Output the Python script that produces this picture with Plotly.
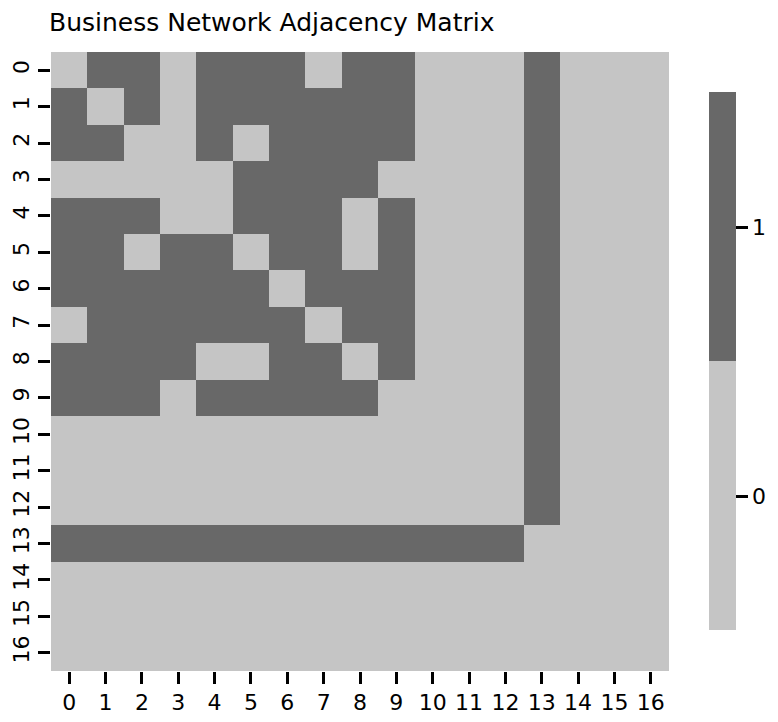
import plotly.graph_objects as go

title = "Business Network Adjacency Matrix"
labels = [str(i) for i in range(17)]

# adjacency rows
row0 = [0,1,1,0,1,1,1,0,1,1,0,0,0,1,0,0,0]
row1 = [1,0,1,0,1,1,1,1,1,1,0,0,0,1,0,0,0]
row2 = [1,1,0,0,1,0,1,1,1,1,0,0,0,1,0,0,0]
row3 = [0,0,0,0,0,1,1,1,1,0,0,0,0,1,0,0,0]
row4 = [1,1,1,0,0,1,1,1,0,1,0,0,0,1,0,0,0]
row5 = [1,1,0,1,1,0,1,1,0,1,0,0,0,1,0,0,0]
row6 = [1,1,1,1,1,1,0,1,1,1,0,0,0,1,0,0,0]
row7 = [0,1,1,1,1,1,1,0,1,1,0,0,0,1,0,0,0]
row8 = [1,1,1,1,0,0,1,1,0,1,0,0,0,1,0,0,0]
row9 = [1,1,1,0,1,1,1,1,1,0,0,0,0,1,0,0,0]
row10 = [0,0,0,0,0,0,0,0,0,0,0,0,0,1,0,0,0]
row11 = [0,0,0,0,0,0,0,0,0,0,0,0,0,1,0,0,0]
row12 = [0,0,0,0,0,0,0,0,0,0,0,0,0,1,0,0,0]
row13 = [1,1,1,1,1,1,1,1,1,1,1,1,1,0,0,0,0]
row14 = [0]*17
row15 = [0]*17
row16 = [0]*17
matrix = [row0,row1,row2,row3,row4,row5,row6,row7,row8,row9,
          row10,row11,row12,row13,row14,row15,row16]

LIGHT = "#c5c5c5"
DARK = "#686868"
FONT = "DejaVu Sans"

fig = go.Figure(go.Heatmap(
    z=matrix, x=labels, y=labels,
    zmin=-0.5, zmax=1.5,
    colorscale=[[0, LIGHT], [0.5, LIGHT], [0.5, DARK], [1, DARK]],
    colorbar=dict(
        tickvals=[0, 1], ticktext=["0", "1"],
        ticks="outside", ticklen=12, tickwidth=2.5, tickcolor="black",
        outlinewidth=0, thickness=27, xpad=0, ypad=0,
        x=1.065, xanchor="left", xref="paper",
        y=0.5, yanchor="middle", len=0.869, lenmode="fraction",
        tickfont=dict(size=22, color="black", family=FONT),
    ),
))

fig.update_layout(
    width=778, height=722,
    margin=dict(l=43, r=117, t=44, b=59),
    paper_bgcolor="white", plot_bgcolor="white",
    font=dict(family=FONT, size=22, color="black"),
    title=dict(text=title, x=41/778, xanchor="left", y=1-14/722, yanchor="middle",
               font=dict(size=25, family=FONT, color="black")),
)
fig.update_xaxes(type="category", ticks="outside", ticklen=12, tickwidth=2.5,
                 tickcolor="black", showgrid=False, zeroline=False, showline=False,
                 tickangle=0, tickfont=dict(size=22), automargin=False)
fig.update_yaxes(type="category", autorange="reversed", ticks="outside", ticklen=12,
                 tickwidth=2.5, tickcolor="black", showgrid=False, zeroline=False,
                 showline=False, tickangle=-90, tickfont=dict(size=22), automargin=False)

fig.write_html("out.html")
